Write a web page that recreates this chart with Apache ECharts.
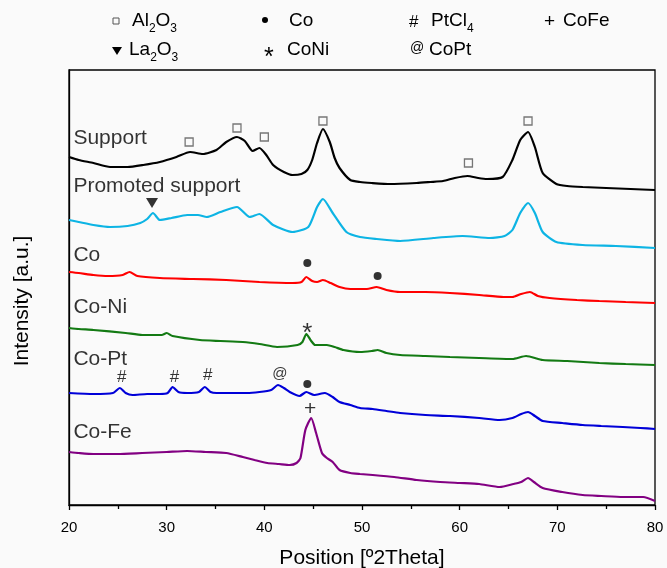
<!DOCTYPE html>
<html>
<head>
<meta charset="utf-8">
<script src="https://cdn.jsdelivr.net/npm/echarts@6/dist/echarts.min.js"></script>
<style>
  html, body { margin: 0; padding: 0; background: #fafafa; }
  #chart { width: 667px; height: 568px; }
</style>
</head>
<body>
<div id="chart"></div>
<script>
// XRD patterns, intensity (arbitrary units, stacked)
var supportPos = [20, 21, 22.5, 24.2, 26, 27.6, 29.3, 31, 32.4, 33.7, 35.1, 36.1, 37.2, 38, 38.8, 39.5, 40.2, 40.9, 42, 42.9, 43.8, 44.4, 44.9, 45.4, 46, 46.7, 47.2, 47.7, 48.8, 49.8, 51, 52.9, 55.6, 57, 58.3, 59.5, 60.8, 61.9, 62.8, 64.4, 65.4, 66.2, 67, 67.7, 68.5, 69.9, 71, 72.6, 75, 77.5, 80];
var supportInt = [348, 345, 342, 338, 338, 340, 343, 348, 353, 351, 355, 363, 368, 364, 354, 357, 350, 340, 333, 330, 331, 335, 345, 362, 376, 363, 347, 337, 325, 323, 322, 321, 322, 323, 324, 327, 329, 327, 326, 328, 345, 365, 373, 358, 332, 321, 319, 318, 317, 316, 315];

var promotedPos = [20, 21, 22.5, 24.2, 26, 27.3, 28, 28.6, 29.3, 30.5, 32.1, 33.2, 34.1, 35.5, 37.2, 38.5, 39.5, 40.9, 42.9, 44.5, 45.4, 46, 47, 48.4, 49.8, 51.5, 53.9, 57.3, 60.3, 63.1, 64.6, 65.4, 66.2, 67, 67.7, 68.5, 69.9, 72.6, 76, 80];
var promotedInt = [285, 283, 280, 278, 279, 282, 286, 292, 285, 287, 290, 290, 288, 293, 298, 288, 291, 280, 273, 278, 298, 306, 292, 273, 268, 266, 264, 267, 269, 267, 269, 275, 292, 302, 292, 273, 263, 260, 259, 257];

var coPos = [20, 21, 22.5, 24, 25.5, 26.2, 27, 29.3, 32.7, 36.1, 39.5, 42.9, 43.8, 44.3, 44.9, 45.4, 46, 46.8, 47.7, 48.8, 50.5, 51.5, 52.5, 53.9, 56.5, 59, 62, 64.5, 65.4, 66.3, 67.2, 68, 69.2, 72, 74.3, 77, 80];
var coInt = [233, 232, 230, 229, 230, 233, 229, 227, 226, 225, 223, 222, 223, 228, 224, 223, 225, 222, 218, 216, 216, 218, 215, 213, 213, 212, 210, 208, 208, 211, 213, 209, 207, 205, 204, 203, 202];

var coNiPos = [20, 21, 22.5, 25.8, 27.5, 29.5, 30, 30.6, 33.4, 35.5, 37.8, 39.5, 41.3, 43.4, 43.9, 44.3, 44.8, 45.2, 46.4, 47.2, 48.1, 49.8, 51, 51.6, 52.5, 53.9, 56.5, 59, 62, 65.4, 66.8, 68.5, 71, 74.3, 77, 80];
var coNiInt = [177, 176, 175, 172, 170, 170, 172, 169, 165, 164, 163, 161, 158, 160, 163, 171, 164, 160, 160, 158, 155, 153, 154, 155, 152, 150, 149, 148, 147, 146, 149, 145, 144, 142, 141, 140];

var coPtPos = [20, 22.5, 24.5, 25.2, 25.8, 26.5, 28, 29.3, 30.1, 30.6, 31.2, 32.1, 33.3, 33.9, 34.5, 35.1, 36.5, 38.2, 39.5, 40.7, 41.4, 42, 42.6, 43.6, 44.3, 45.1, 46.2, 47, 47.7, 48.8, 49.8, 51.1, 52.5, 53.9, 56.5, 59, 62, 64.1, 65.4, 66.3, 67, 67.7, 68.5, 70.5, 72.6, 74.5, 76.7, 78.5, 80];
var coPtInt = [112, 111, 112, 117, 112, 110, 111, 111, 112, 118, 113, 112, 113, 118, 113, 112, 112, 112, 113, 115, 120, 117, 113, 109, 113, 110, 112, 108, 103, 100, 97, 96, 94, 92, 90, 89, 87, 85, 87, 91, 93, 89, 84, 82, 80, 79, 78, 77, 76];

var coFePos = [20, 21, 22.5, 25, 27.5, 30, 32.1, 34, 36.1, 37.8, 39, 40.3, 41.5, 42.6, 43.3, 43.7, 44.2, 44.8, 45.3, 45.9, 46.4, 47, 47.7, 48.8, 49.8, 51.1, 53.3, 55.6, 58, 60, 62, 64.1, 65.5, 66.3, 67, 67.6, 68.5, 70.5, 72.6, 74.5, 76.7, 78.8, 80];
var coFeInt = [53, 52, 51, 51, 52, 53, 54, 53, 52, 48, 45, 42, 41, 40, 42, 47, 75, 87, 72, 52, 47, 43, 35, 32, 31, 30, 28, 25, 23, 22, 21, 18, 21, 23, 27, 23, 17, 13, 10, 9, 8, 8, 4];

var sampleNames = ['Support', 'Promoted support', 'Co', 'Co-Ni', 'Co-Pt', 'Co-Fe'];
var sampleColors = ['#000000', '#0db4e4', '#ff0000', '#137a13', '#0000d8', '#820082'];
var sampleLabelLevel = [367, 319, 250, 198, 146, 73];

// phase markers: [2theta, level]
var al2o3Marks = [[32.3, 363], [37.2, 377], [40.0, 368], [46.0, 384], [60.9, 342], [67.0, 384]];
var la2o3Marks = [[28.5, 302]];
var coMarks = [[44.4, 242], [51.6, 229], [44.4, 121]];
var coNiMarks = [[44.4, 178]];
var ptCl4Marks = [[25.4, 128], [30.8, 128], [34.2, 130]];
var coPtMarks = [[41.6, 131]];
var coFeMarks = [[44.7, 96]];

var FONT = 'Liberation Sans, Arial, sans-serif';

function pairs(xs, ys) {
  var out = [];
  for (var i = 0; i < xs.length; i++) out.push([xs[i], ys[i]]);
  return out;
}

var patterns = [
  pairs(supportPos, supportInt),
  pairs(promotedPos, promotedInt),
  pairs(coPos, coInt),
  pairs(coNiPos, coNiInt),
  pairs(coPtPos, coPtInt),
  pairs(coFePos, coFeInt)
];

var series = [];
for (var i = 0; i < patterns.length; i++) {
  series.push({
    name: sampleNames[i],
    type: 'line',
    data: patterns[i],
    showSymbol: false,
    smooth: 0.2,
    lineStyle: { color: sampleColors[i], width: 2.2 },
    z: 2
  });
}

var textMark = function(data, text, size, dy) {
  return {
    type: 'scatter',
    data: data,
    symbolSize: 1,
    itemStyle: { color: 'transparent' },
    label: {
      show: true, position: 'inside', formatter: text,
      fontFamily: FONT, fontSize: size, color: '#000', offset: [0, dy]
    },
    z: 5
  };
};

series.push({
  type: 'scatter', data: al2o3Marks, symbol: 'rect', symbolSize: 8,
  itemStyle: { color: 'transparent', borderColor: '#555', borderWidth: 1.3 }, z: 5
});
series.push({
  type: 'scatter', data: la2o3Marks, symbol: 'triangle', symbolSize: [12, 10], symbolRotate: 180,
  itemStyle: { color: '#000' }, z: 5
});
series.push({
  type: 'scatter', data: coMarks, symbol: 'circle', symbolSize: 8,
  itemStyle: { color: '#000' }, z: 5
});
series.push(textMark(coNiMarks, '*', 26, 7));
series.push(textMark(ptCl4Marks, '#', 17, 0));
series.push(textMark(coPtMarks, '@', 15, 0));
series.push(textMark(coFeMarks, '+', 21, 0));

var nameData = [];
for (var j = 0; j < sampleNames.length; j++) {
  nameData.push([20.4, sampleLabelLevel[j], sampleNames[j]]);
}
series.push({
  type: 'scatter',
  data: nameData,
  symbolSize: 1,
  itemStyle: { color: 'transparent' },
  label: {
    show: true, position: 'right', distance: 0,
    formatter: function(p) { return p.data[2]; },
    fontFamily: FONT, fontSize: 21, color: '#000'
  },
  z: 6
});

var rich = {
  a: { fontFamily: FONT, fontSize: 19, lineHeight: 28, fill: '#000' },
  s: { fontFamily: FONT, fontSize: 12, lineHeight: 12, verticalAlign: 'bottom', fill: '#000' }
};
var legendText = function(x, y, text, size) {
  return {
    type: 'text', x: x, y: y,
    style: { text: text, fill: '#000', font: (size || 19) + 'px ' + FONT, align: 'left', verticalAlign: 'middle', rich: rich }
  };
};

var graphics = [
  { type: 'rect', shape: { x: 113, y: 18, width: 6, height: 6 }, style: { fill: 'none', stroke: '#555', lineWidth: 1 } },
  legendText(132, 21, '{a|Al}{s|2}{a|O}{s|3}'),
  { type: 'circle', shape: { cx: 265, cy: 20, r: 3 }, style: { fill: '#000' } },
  legendText(289, 21, 'Co'),
  legendText(409, 22, '#', 17),
  legendText(431, 21, '{a|PtCl}{s|4}'),
  legendText(544, 22, '+', 19),
  legendText(563, 21, 'CoFe'),
  { type: 'polygon', shape: { points: [[112, 47], [122, 47], [117, 55]] }, style: { fill: '#000' } },
  legendText(129, 50, '{a|La}{s|2}{a|O}{s|3}'),
  legendText(264, 58, '*', 25),
  legendText(287, 50, 'CoNi'),
  legendText(410, 48, '@', 14),
  legendText(429, 50, 'CoPt'),
  {
    type: 'text', x: 22, y: 301, rotation: Math.PI / 2,
    style: { text: 'Intensity [a.u.]', fill: '#000', font: '21px ' + FONT, align: 'center', verticalAlign: 'middle' }
  }
];

var option = {
  backgroundColor: '#fafafa',
  animation: false,
  grid: {
    left: 69, right: 12, top: 70, bottom: 63,
    outerBoundsMode: 'none',
    show: true, borderColor: '#000', borderWidth: 1.3, backgroundColor: 'transparent'
  },
  xAxis: {
    type: 'value', min: 20, max: 80, interval: 10,
    name: 'Position [º2Theta]', nameLocation: 'middle', nameGap: 43,
    nameTextStyle: { fontFamily: FONT, fontSize: 21, color: '#000' },
    axisLine: { lineStyle: { color: '#000', width: 1.3 } },
    axisTick: { show: true, inside: false, length: 5, lineStyle: { color: '#000', width: 1.3 } },
    minorTick: { show: true, splitNumber: 2, length: 4, lineStyle: { color: '#000', width: 1.3 } },
    axisLabel: { fontFamily: FONT, fontSize: 15, color: '#000', margin: 15 },
    splitLine: { show: false }
  },
  yAxis: {
    type: 'value', min: 0, max: 435,
    axisLine: { show: true, lineStyle: { color: '#000', width: 1.3 } },
    axisTick: { show: false },
    axisLabel: { show: false },
    splitLine: { show: false }
  },
  graphic: graphics,
  series: series
};

var myChart = echarts.init(document.getElementById('chart'));
myChart.setOption(option);
</script>
</body>
</html>
